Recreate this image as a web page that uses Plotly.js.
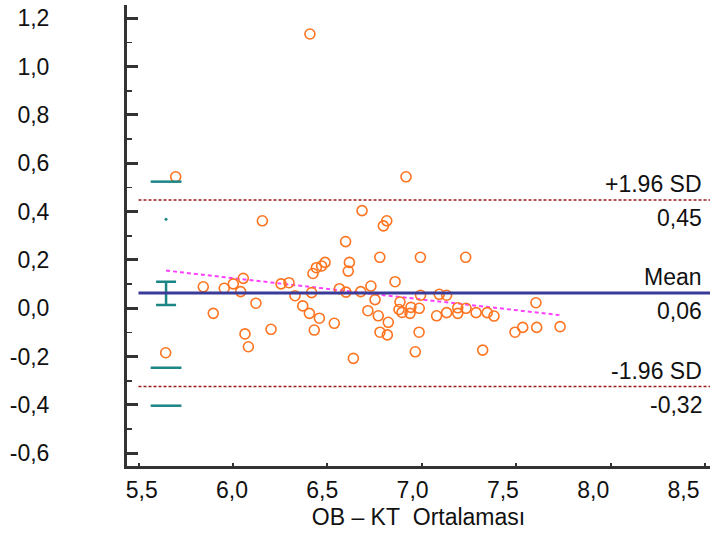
<!DOCTYPE html>
<html>
<head>
<meta charset="utf-8">
<script src="https://cdn.plot.ly/plotly-3.0.1.min.js"></script>
<style>
  html, body { margin: 0; padding: 0; background: #ffffff; }
  #chart { width: 710px; height: 538px; }
</style>
</head>
<body>
<div id="chart"></div>
<script>
// ---------- data ----------
const xTicks = [5.5, 6.0, 6.5, 7.0, 7.5, 8.0, 8.5];
const xTickText = ['5,5', '6,0', '6,5', '7,0', '7,5', '8,0', '8,5'];
const yTicks = [-0.6, -0.4, -0.2, 0.0, 0.2, 0.4, 0.6, 0.8, 1.0, 1.2];
const yTickText = ['-0,6', '-0,4', '-0,2', '0,0', '0,2', '0,4', '0,6', '0,8', '1,0', '1,2'];
const xTitle = 'OB – KT\u00a0\u00a0Ortalaması';

// mean of the two methods (x) and their difference (y)
const avgX = [5.697, 6.156, 5.843, 5.954, 6.002, 6.055, 6.041, 6.255, 6.297, 6.329,
              6.417, 6.424, 6.442, 6.470, 6.488, 6.917, 6.684, 6.815, 6.797, 6.597,
              6.617, 6.611, 6.778, 6.993, 7.233, 6.859, 6.564, 6.599, 6.677, 6.731,
              6.753, 6.994, 7.093, 7.132, 6.885, 7.605, 6.122, 5.896, 6.370, 6.405,
              6.458, 6.537, 6.431, 6.715, 6.064, 6.202, 6.082, 5.644, 6.638, 6.770,
              6.823, 6.779, 6.818, 6.880, 6.896, 6.943, 6.938, 6.987, 6.986, 6.966,
              7.079, 7.132, 7.191, 7.191, 7.235, 7.288, 7.347, 7.383, 7.323, 7.494,
              7.535, 7.609, 7.733, 6.408];
const diffY = [0.544, 0.362, 0.089, 0.083, 0.101, 0.124, 0.069, 0.101, 0.106, 0.052,
               0.065, 0.144, 0.168, 0.175, 0.190, 0.544, 0.404, 0.362, 0.341, 0.276,
               0.190, 0.154, 0.211, 0.211, 0.211, 0.110, 0.081, 0.067, 0.069, 0.092,
               0.036, 0.054, 0.058, 0.054, 0.026, 0.023, 0.021, -0.021, 0.010, -0.021,
               -0.041, -0.062, -0.090, -0.010, -0.106, -0.087, -0.159, -0.184, -0.207, -0.031,
               -0.058, -0.099, -0.110, -0.005, -0.017, 0.004, -0.021, 0.000, -0.099, -0.180,
               -0.031, -0.018, 0.002, -0.021, 0.000, -0.018, -0.018, -0.032, -0.173, -0.099,
               -0.079, -0.079, -0.076, 1.135];

// limits of agreement
const limitNames = ['+1.96 SD', 'Mean', '-1.96 SD'];
const limitValueText = ['0,45', '0,06', '-0,32'];
const limitValues = [0.448, 0.063, -0.324];

// confidence intervals (lower, upper) drawn at the left
const ciX = 5.646;
const ciUpperLimit = [0.368, 0.524];
const ciMean = [0.014, 0.110];
const ciLowerLimit = [-0.403, -0.246];

// regression line of differences
const regX = [5.646, 7.729];
const regY = [0.156, -0.028];

// ---------- chart ----------
const FONT = '"Liberation Sans", Arial, Helvetica, sans-serif';
const TEXT = '#111111';
const AXIS = '#333333';
const TEAL = '#1c8585';
const ORANGE = '#ff7420';

const traces = [
  { // regression line
    type: 'scatter', mode: 'lines', x: regX, y: regY,
    line: { color: '#ff40ff', width: 2, dash: '4px,3px' },
    hoverinfo: 'skip', showlegend: false
  },
  { // points
    type: 'scatter', mode: 'markers', x: avgX, y: diffY,
    marker: { symbol: 'circle-open', size: 10, color: ORANGE, line: { color: ORANGE, width: 1.6 } },
    showlegend: false
  },
  { // CI of mean
    type: 'scatter', mode: 'markers', x: [ciX], y: [limitValues[1]],
    marker: { size: 1, opacity: 0, color: TEAL },
    error_y: {
      type: 'data', symmetric: false,
      array: [ciMean[1] - limitValues[1]],
      arrayminus: [limitValues[1] - ciMean[0]],
      color: TEAL, thickness: 2.5, width: 10
    },
    showlegend: false
  },
  { // CI caps of limits
    type: 'scatter', mode: 'markers',
    x: [ciX, ciX, ciX],
    y: [ciUpperLimit[1], ciLowerLimit[0], ciLowerLimit[1]],
    marker: { symbol: 'line-ew', size: 22, color: TEAL, line: { color: TEAL, width: 2.5 } },
    showlegend: false
  },
  { // remnant dot of upper CI
    type: 'scatter', mode: 'markers', x: [ciX], y: [ciUpperLimit[0]],
    marker: { symbol: 'circle', size: 3, color: TEAL },
    showlegend: false
  },
  { // placeholder for label axis
    type: 'scatter', mode: 'markers', x: [], y: [], xaxis: 'x2', showlegend: false
  }
];

const shapes = limitValues.map((v, i) => ({
  type: 'line', xref: 'x', yref: 'y',
  x0: xTicks[0], x1: 8.527, y0: v, y1: v,
  layer: 'above',
  line: i === 1 ? { color: '#3a3a98', width: 3 } : { color: '#9b1b1b', width: 1.5, dash: '3px,2px' }
}));

const annotations = [];
limitNames.forEach((name, i) => {
  annotations.push({
    xref: 'paper', yref: 'y', x: 1, y: limitValues[i], xanchor: 'right', yanchor: 'middle',
    xshift: -6, yshift: 16, text: name, showarrow: false,
    font: { family: FONT, size: 23, color: TEXT }
  });
  annotations.push({
    xref: 'paper', yref: 'y', x: 1, y: limitValues[i], xanchor: 'right', yanchor: 'middle',
    xshift: -6, yshift: -18, text: limitValueText[i], showarrow: false,
    font: { family: FONT, size: 23, color: TEXT }
  });
});

const layout = {
  width: 710, height: 538,
  margin: { l: 127, r: 0, t: 5, b: 72 },
  paper_bgcolor: '#ffffff', plot_bgcolor: 'rgba(0,0,0,0)',
  font: { family: FONT, size: 23, color: TEXT },
  showlegend: false,
  xaxis: {
    range: [5.4391, 8.527], tickvals: xTicks, showticklabels: false,
    showline: true, linecolor: AXIS, linewidth: 3,
    ticks: 'inside', ticklen: 3, tickwidth: 2, tickcolor: AXIS,
    showgrid: false, zeroline: false, fixedrange: true
  },
  xaxis2: {
    overlaying: 'x', anchor: 'y', side: 'bottom',
    range: [5.4186, 8.6468], tickvals: xTicks, ticktext: xTickText,
    showline: false, ticks: '', showgrid: false, zeroline: false,
    ticklabelstandoff: 8,
    tickfont: { family: FONT, size: 23, color: TEXT },
    title: { text: xTitle, font: { family: FONT, size: 23, color: TEXT }, standoff: 6 },
    fixedrange: true
  },
  yaxis: {
    range: [-0.6525, 1.2549], tickvals: yTicks, ticktext: yTickText,
    showline: true, linecolor: AXIS, linewidth: 3,
    ticks: 'inside', ticklen: 11, tickwidth: 3, tickcolor: AXIS,
    minor: { ticks: 'inside', ticklen: 5, tickwidth: 1.5, tickcolor: AXIS, tick0: -0.6, dtick: 0.1 },
    ticklabelstandoff: 70,
    tickfont: { family: FONT, size: 23, color: TEXT },
    showgrid: false, zeroline: false, fixedrange: true
  },
  shapes: shapes,
  annotations: annotations
};

Plotly.newPlot('chart', traces, layout, { staticPlot: true, displayModeBar: false });
</script>
</body>
</html>
